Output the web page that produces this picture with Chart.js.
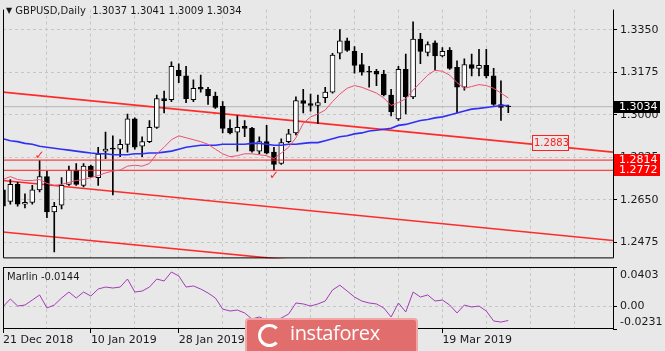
<!DOCTYPE html>
<html>
<head>
<meta charset="utf-8">
<script src="https://cdn.jsdelivr.net/npm/chart.js@4"></script>
<style>
  body { margin: 0; width: 665px; height: 351px; overflow: hidden; position: relative; background: #e8e8e8; font-family: 'DejaVu Sans', sans-serif; }
  canvas { position: absolute; left: 0; }
  #priceChart { top: 0; }
  #marlinChart { top: 264px; }
  .hdr { position: absolute; left: 6px; top: 5px; font-size: 10px; color: #1a1a1a; white-space: pre; }
  .hdr .tri { font-size: 8px; position: relative; top: -1px; }
  .sub { position: absolute; left: 7px; top: 271px; font-size: 10px; color: #1a1a1a; white-space: pre; }
  #wm { position: absolute; left: 245px; top: 318px; width: 173px; height: 40px; box-sizing: border-box; background: #e26d6d; border: 2px solid #f0a6a6; border-radius: 4px; color: #fff; font-family: 'Open Sans', sans-serif; font-size: 20px; letter-spacing: -0.4px; line-height: 26px; padding-left: 43px; }
  #wm .logo { position: absolute; left: 11px; top: 4px; width: 17px; height: 17px; border: 3px solid #fff; border-right-color: transparent; border-radius: 50%; }
</style>
</head>
<body>
<canvas id="priceChart" width="665" height="268"></canvas>
<canvas id="marlinChart" width="665" height="87"></canvas>
<div class="hdr" id="hdr"></div>
<div class="sub" id="sub"></div>
<div id="wm"><span class="logo"></span>instaforex</div>
<script>
const symbol = 'GBPUSD';
const period = 'Daily';

// date labels and the bar index where each one sits
const dateLabels = ['21 Dec 2018', '10 Jan 2019', '28 Jan 2019', '13 Feb 2019', '1 Mar 2019', '19 Mar 2019'];
const dateIdx = [0, 12, 24, 36, 48, 60];

const opens = [1.2691, 1.2644, 1.2714, 1.2632, 1.2640, 1.2691, 1.2746, 1.2601, 1.2628, 1.2714,
  1.2773, 1.2710, 1.2789, 1.2742, 1.2851, 1.2863, 1.2859, 1.2879, 1.2984, 1.2871,
  1.2890, 1.2949, 1.3067, 1.3063, 1.3184, 1.3161, 1.3063, 1.3114, 1.3106, 1.3078,
  1.3035, 1.2945, 1.2929, 1.2953, 1.2945, 1.2851, 1.2890, 1.2847, 1.2800, 1.2890,
  1.2926, 1.3059, 1.3047, 1.3039, 1.3071, 1.3094, 1.3254, 1.3305, 1.3262, 1.3208,
  1.3180, 1.3180, 1.3168, 1.3082, 1.2984, 1.3188, 1.3074, 1.3313, 1.3258, 1.3297,
  1.3243, 1.3266, 1.3196, 1.3114, 1.3208, 1.3192, 1.3204, 1.3161, 1.3043, 1.3037];
const highs = [1.2730, 1.2734, 1.2722, 1.2675, 1.2710, 1.2812, 1.2769, 1.2640, 1.2742, 1.2789,
  1.2800, 1.2800, 1.2793, 1.2867, 1.2929, 1.2914, 1.2898, 1.3004, 1.2988, 1.2910,
  1.2977, 1.3082, 1.3098, 1.3219, 1.3211, 1.3200, 1.3145, 1.3164, 1.3114, 1.3094,
  1.3055, 1.2980, 1.2996, 1.2977, 1.2949, 1.2910, 1.2957, 1.2867, 1.2902, 1.2941,
  1.3075, 1.3106, 1.3086, 1.3082, 1.3114, 1.3254, 1.3352, 1.3317, 1.3282, 1.3254,
  1.3200, 1.3188, 1.3184, 1.3106, 1.3200, 1.3251, 1.3384, 1.3336, 1.3301, 1.3305,
  1.3278, 1.3278, 1.3223, 1.3231, 1.3251, 1.3270, 1.3270, 1.3192, 1.3141, 1.3041];
const lows = [1.2605, 1.2632, 1.2624, 1.2617, 1.2632, 1.2683, 1.2577, 1.2436, 1.2613, 1.2710,
  1.2710, 1.2703, 1.2742, 1.2710, 1.2820, 1.2671, 1.2828, 1.2847, 1.2859, 1.2828,
  1.2886, 1.2945, 1.3008, 1.3055, 1.3133, 1.3051, 1.3055, 1.3094, 1.3043, 1.3027,
  1.2926, 1.2922, 1.2851, 1.2910, 1.2847, 1.2839, 1.2839, 1.2773, 1.2796, 1.2886,
  1.2918, 1.3008, 1.3016, 1.2965, 1.3051, 1.3090, 1.3231, 1.3262, 1.3172, 1.3164,
  1.3114, 1.3121, 1.3078, 1.2996, 1.2977, 1.3004, 1.3067, 1.3211, 1.3243, 1.3184,
  1.3239, 1.3188, 1.3008, 1.3102, 1.3161, 1.3161, 1.3153, 1.3039, 1.2977, 1.3009];
const closes = [1.2624, 1.2714, 1.2632, 1.2640, 1.2691, 1.2746, 1.2601, 1.2624, 1.2710, 1.2773,
  1.2714, 1.2789, 1.2746, 1.2839, 1.2859, 1.2859, 1.2879, 1.2984, 1.2867, 1.2890,
  1.2949, 1.3067, 1.3059, 1.3200, 1.3161, 1.3067, 1.3110, 1.3106, 1.3078, 1.3031,
  1.2945, 1.2926, 1.2949, 1.2945, 1.2851, 1.2890, 1.2843, 1.2796, 1.2886, 1.2922,
  1.3059, 1.3047, 1.3039, 1.3051, 1.3094, 1.3247, 1.3305, 1.3266, 1.3204, 1.3176,
  1.3176, 1.3168, 1.3082, 1.3012, 1.3188, 1.3074, 1.3313, 1.3262, 1.3290, 1.3243,
  1.3262, 1.3192, 1.3114, 1.3208, 1.3192, 1.3204, 1.3161, 1.3043, 1.3031, 1.3034];

// red fast MA and blue slow MA
const maFast = [1.2734, 1.2746, 1.2734, 1.2730, 1.2730, 1.2734, 1.2718, 1.2710, 1.2714, 1.2722,
  1.2730, 1.2734, 1.2742, 1.2750, 1.2761, 1.2769, 1.2773, 1.2789, 1.2793, 1.2789,
  1.2800, 1.2840, 1.2867, 1.2898, 1.2914, 1.2906, 1.2898, 1.2890, 1.2879, 1.2859,
  1.2840, 1.2828, 1.2832, 1.2840, 1.2840, 1.2836, 1.2832, 1.2820, 1.2843, 1.2867,
  1.2906, 1.2965, 1.2992, 1.3004, 1.3020, 1.3055, 1.3086, 1.3110, 1.3121, 1.3114,
  1.3102, 1.3090, 1.3070, 1.3039, 1.3051, 1.3067, 1.3102, 1.3133, 1.3164, 1.3184,
  1.3180, 1.3164, 1.3133, 1.3110, 1.3117, 1.3125, 1.3121, 1.3110, 1.3090, 1.3070];
const maSlow = [1.2902, 1.2894, 1.2890, 1.2883, 1.2879, 1.2871, 1.2867, 1.2863, 1.2859, 1.2855,
  1.2851, 1.2847, 1.2843, 1.2840, 1.2840, 1.2836, 1.2836, 1.2836, 1.2840, 1.2840,
  1.2843, 1.2843, 1.2847, 1.2851, 1.2859, 1.2867, 1.2871, 1.2875, 1.2875, 1.2875,
  1.2879, 1.2879, 1.2879, 1.2879, 1.2883, 1.2883, 1.2879, 1.2875, 1.2875, 1.2879,
  1.2879, 1.2883, 1.2886, 1.2886, 1.2894, 1.2902, 1.2910, 1.2914, 1.2922, 1.2926,
  1.2934, 1.2937, 1.2941, 1.2945, 1.2957, 1.2961, 1.2969, 1.2977, 1.2981, 1.2988,
  1.2992, 1.3000, 1.3008, 1.3016, 1.3024, 1.3027, 1.3031, 1.3035, 1.3039, 1.3039];

const marlin = [-0.0003, 0.0076, 0.0004, 0.0014, 0.0065, 0.0117, -0.0016, 0.0014, 0.0086, 0.0147,
  0.0086, 0.0147, 0.0106, 0.0178, 0.0198, 0.0188, 0.0198, 0.0280, 0.0147, 0.0157,
  0.0198, 0.0280, 0.0260, 0.0352, 0.0311, 0.0198, 0.0209, 0.0178, 0.0137, 0.0086,
  -0.0027, -0.0047, -0.0037, -0.0067, -0.0129, -0.0108, -0.0139, -0.0149, -0.0119, -0.0078,
  0.0035, 0.0025, 0.0004, 0.0025, 0.0055, 0.0168, 0.0217, 0.0157, 0.0096, 0.0055,
  0.0035, 0.0025, -0.0016, -0.0108, 0.0035, -0.0057, 0.0147, 0.0096, 0.0117, 0.0055,
  0.0065, 0.0014, -0.0067, 0.0014, -0.0006, 0.0004, -0.0047, -0.0149, -0.0160, -0.0144];

const priceTicks = [1.2475, 1.2650, 1.2825, 1.3000, 1.3175, 1.3350];
const marlinTicks = [-0.0231, 0, 0.0403];
const marlinTickLabels = ['-0.0231', '0.00', '0.0403'];

// drawn objects: channel lines (value at bar 0 and at the right edge), levels, marks
const lineIdx = [0, 83.3];
const upperLine = [1.3094, 1.2847];
const middleLine = [1.2730, 1.2483];
const lowerLine = [1.2518, 1.2272];
const levels = [1.2814, 1.2772];
const lastPrice = 1.3034;
const lineLabelIdx = 72.3;
const lineLabel = 1.2883;
const checkIdx = [5, 37];
const checkPrice = [1.2832, 1.2748];

const xMin = 0, xMax = 83.3;
const gridIdx = [];
for (let v = 6; v < xMax; v += 6) gridIdx.push(v);
const FONT = 'DejaVu Sans';
const GRID = '#c6c6c6';

document.getElementById('hdr').innerHTML = '<span class="tri">\u25BC</span> ' + symbol + ',' + period + '  ' +
  [opens, highs, lows, closes].map(a => a[a.length - 1].toFixed(4)).join(' ');
document.getElementById('sub').textContent = 'Marlin ' + marlin[marlin.length - 1].toFixed(4);

const pts = arr => arr.map((v, i) => ({x: i, y: v}));
const seg = arr => arr.map((v, k) => ({x: lineIdx[k], y: v}));
const isUp = i => closes[i] >= opens[i];

// frame + right side price boxes + text objects
const priceDecor = {
  id: 'priceDecor',
  afterDraw(chart) {
    const {ctx, chartArea: a, scales: {x, y}} = chart;
    ctx.save();
    ctx.strokeStyle = '#000';
    ctx.lineWidth = 1;
    ctx.beginPath();
    ctx.moveTo(a.left + 0.5, a.top);
    ctx.lineTo(a.left + 0.5, a.bottom - 0.5);
    ctx.lineTo(a.right + 0.5, a.bottom - 0.5);
    ctx.lineTo(a.right + 0.5, a.top);
    ctx.stroke();

    ctx.font = '11px ' + FONT;
    ctx.textBaseline = 'middle';
    const box = (v, bg, fg) => {
      const py = Math.round(y.getPixelForValue(v));
      ctx.fillStyle = bg;
      ctx.fillRect(a.right + 1, py - 6, 46, 12);
      ctx.fillStyle = fg;
      ctx.fillText(v.toFixed(4), a.right + 6, py + 0.5);
    };
    box(lastPrice, '#000', '#fff');
    levels.forEach(v => box(v, '#ff0000', '#fff'));

    // trend line label
    const lx = Math.round(x.getPixelForValue(lineLabelIdx));
    const ly = Math.round(y.getPixelForValue(lineLabel));
    ctx.fillStyle = '#e8e8e8';
    ctx.fillRect(lx, ly - 8, 37, 16);
    ctx.strokeStyle = '#ff2020';
    ctx.strokeRect(lx + 0.5, ly - 7.5, 36, 15);
    ctx.fillStyle = '#ff2020';
    ctx.font = '10px ' + FONT;
    ctx.fillText(lineLabel.toFixed(4), lx + 2, ly + 0.5);

    // check marks
    ctx.font = 'bold 12px ' + FONT;
    ctx.textAlign = 'center';
    checkIdx.forEach((idx, k) => {
      ctx.fillText('\u2713', x.getPixelForValue(idx), y.getPixelForValue(checkPrice[k]));
    });
    ctx.restore();
  }
};

new Chart(document.getElementById('priceChart'), {
  type: 'bar',
  data: {
    datasets: [
      {type: 'line', data: pts(maFast), borderColor: '#ee4f72', borderWidth: 1, pointRadius: 0, order: 0},
      {type: 'line', data: pts(maSlow), borderColor: '#2f2ff5', borderWidth: 1.6, pointRadius: 0, order: 0},
      {type: 'line', data: seg([levels[0], levels[0]]), borderColor: '#ff1a1a', borderWidth: 1, pointRadius: 0, order: 1},
      {type: 'line', data: seg([levels[1], levels[1]]), borderColor: '#ff1a1a', borderWidth: 1, pointRadius: 0, order: 1},
      {
        data: opens.map((o, i) => ({x: i, y: [o, closes[i]]})),
        backgroundColor: c => isUp(c.dataIndex) ? '#fff' : '#000',
        borderColor: '#000', borderWidth: 1, borderSkipped: false,
        barThickness: 5, grouped: false, order: 2
      },
      {
        data: lows.map((l, i) => ({x: i, y: [l, highs[i]]})),
        backgroundColor: '#000', borderWidth: 0,
        barThickness: 1, grouped: false, order: 3
      },
      {type: 'line', data: seg(upperLine), borderColor: '#ff2b2b', borderWidth: 1.6, pointRadius: 0, order: 4},
      {type: 'line', data: seg(middleLine), borderColor: '#ff2b2b', borderWidth: 1.6, pointRadius: 0, order: 4},
      {type: 'line', data: seg(lowerLine), borderColor: '#ff2b2b', borderWidth: 1.6, pointRadius: 0, order: 4},
      {type: 'line', data: seg([lastPrice, lastPrice]), borderColor: '#b4b4b4', borderWidth: 1, pointRadius: 0, order: 5}
    ]
  },
  options: {
    responsive: false,
    animation: false,
    events: [],
    layout: {padding: {left: 3, top: 3, bottom: 3, right: 0}},
    plugins: {legend: {display: false}, tooltip: {enabled: false}},
    scales: {
      x: {
        type: 'linear', min: xMin, max: xMax, offset: false,
        grid: {color: GRID, drawTicks: false, offset: false},
        border: {display: false, dash: [3, 3]},
        ticks: {display: false},
        afterBuildTicks: s => { s.ticks = gridIdx.map(v => ({value: v})); },
        afterFit: s => { s.height = 0; }
      },
      y: {
        type: 'linear', position: 'right', min: 1.2409, max: 1.3434, beginAtZero: false,
        grid: {color: GRID, tickColor: '#000', tickLength: 4},
        border: {display: false, dash: [3, 3]},
        ticks: {color: '#1a1a1a', font: {family: FONT, size: 11}, padding: 3, callback: v => v.toFixed(4)},
        afterBuildTicks: s => { s.ticks = priceTicks.map(v => ({value: v})); },
        afterFit: s => { s.width = 52; }
      }
    }
  },
  plugins: [priceDecor]
});

const marlinDecor = {
  id: 'marlinDecor',
  afterDraw(chart) {
    const {ctx, chartArea: a, scales: {y}} = chart;
    ctx.save();
    ctx.strokeStyle = '#000';
    ctx.lineWidth = 1;
    ctx.strokeRect(a.left + 0.5, a.top + 0.5, a.right - a.left, a.bottom - a.top - 1);
    ctx.fillStyle = '#1a1a1a';
    ctx.font = '11px ' + FONT;
    ctx.textBaseline = 'middle';
    marlinTicks.forEach((v, k) => {
      let py = y.getPixelForValue(v);
      py = Math.min(Math.max(py, a.top + 8), a.bottom - 7);
      ctx.fillText(marlinTickLabels[k], a.right + 7, py);
    });
    ctx.restore();
  }
};

new Chart(document.getElementById('marlinChart'), {
  type: 'line',
  data: {
    datasets: [{data: pts(marlin), borderColor: '#a23cb4', borderWidth: 1, pointRadius: 0}]
  },
  options: {
    responsive: false,
    animation: false,
    events: [],
    layout: {padding: {left: 3, top: 3, bottom: 0, right: 0}},
    plugins: {legend: {display: false}, tooltip: {enabled: false}},
    scales: {
      x: {
        type: 'linear', min: xMin, max: xMax,
        grid: {
          color: GRID, tickLength: 4,
          tickColor: c => dateIdx.includes(c.tick && c.tick.value) ? '#000' : 'rgba(0,0,0,0)'
        },
        border: {display: false, dash: [3, 3]},
        ticks: {
          color: '#1a1a1a', font: {family: FONT, size: 11}, padding: 1,
          align: 'start', maxRotation: 0, autoSkip: false,
          callback: v => { const k = dateIdx.indexOf(v); return k >= 0 ? dateLabels[k] : ''; }
        },
        afterBuildTicks: s => { s.ticks = [0].concat(gridIdx).map(v => ({value: v})); },
        afterFit: s => { s.height = 22; }
      },
      y: {
        type: 'linear', position: 'right', min: -0.0231, max: 0.0403,
        grid: {color: c => c.tick && c.tick.value === 0 ? GRID : 'rgba(0,0,0,0)', tickColor: '#000', tickLength: 4},
        border: {display: false, dash: [3, 3]},
        ticks: {display: false},
        afterBuildTicks: s => { s.ticks = marlinTicks.map(v => ({value: v})); },
        afterFit: s => { s.width = 52; }
      }
    }
  },
  plugins: [marlinDecor]
});
</script>
</body>
</html>
